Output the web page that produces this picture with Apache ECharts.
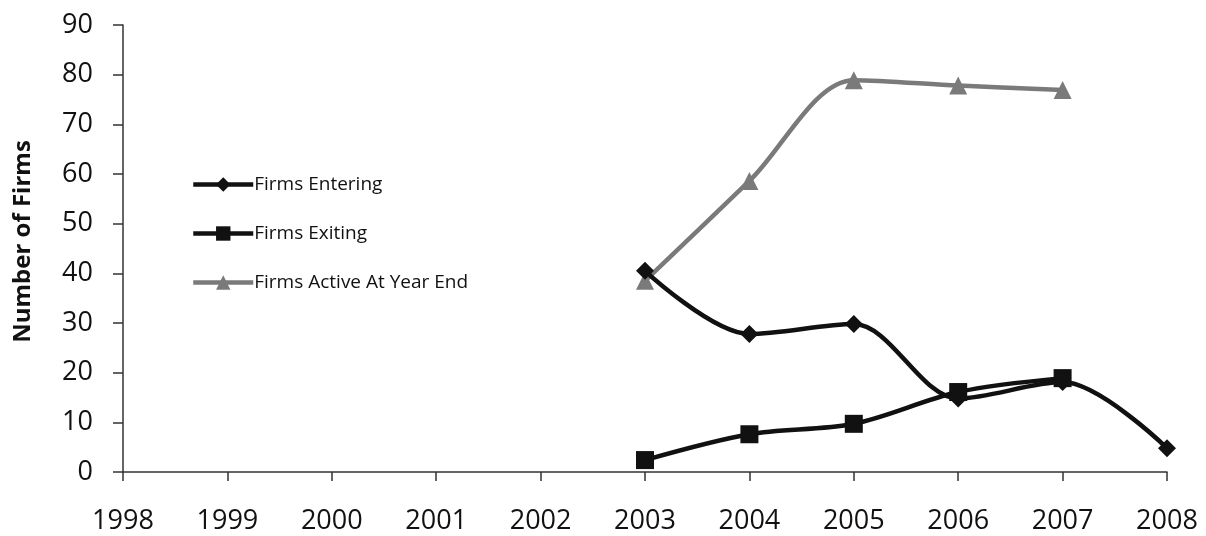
<!DOCTYPE html>
<html>
<head>
<meta charset="utf-8">
<script src="https://cdn.jsdelivr.net/npm/echarts@6/dist/echarts.min.js"></script>
<style>
  html, body { margin: 0; padding: 0; background: #fff; }
  #chart { width: 1206px; height: 536px; }
</style>
</head>
<body>
<div id="chart"></div>
<script>
// Years along the horizontal axis
const years = ['1998', '1999', '2000', '2001', '2002', '2003', '2004', '2005', '2006', '2007', '2008'];

// Number of firms per year (null = no observation)
const firmsEntering = [null, null, null, null, null, 40.5, 27.8, 29.8, 14.8, 18.1, 4.8];
const firmsExiting  = [null, null, null, null, null, 2.4, 7.6, 9.7, 16.1, 18.9, null];
const firmsActive   = [null, null, null, null, null, 38.5, 58.6, 78.9, 77.8, 76.9, null];

const seriesNames = ['Firms Entering', 'Firms Exiting', 'Firms Active At Year End'];

const fontFamily = '"Open Sans", Lato, sans-serif';
const chart = echarts.init(document.getElementById('chart'));

function lineSeries(name, data, symbol, size, color) {
  return {
    name: name,
    type: 'line',
    data: data,
    smooth: 0.32,
    symbol: symbol,
    symbolSize: size,
    showSymbol: true,
    lineStyle: { color: color, width: 4.5 },
    itemStyle: { color: color, borderWidth: 0 },
    connectNulls: false,
    z: 2
  };
}

chart.setOption({
  animation: false,
  backgroundColor: '#fff',
  textStyle: { fontFamily: fontFamily },
  grid: { left: 123, right: 39, top: 25, bottom: 64, containLabel: false },
  legend: {
    orient: 'vertical',
    left: 186,
    top: 170,
    itemWidth: 60,
    itemHeight: 18,
    itemGap: 30,
    lineStyle: { width: 4.5 },
    textStyle: { fontFamily: fontFamily, fontSize: 19, color: '#111', padding: [0, 0, 0, -4] },
    data: seriesNames
  },
  xAxis: {
    type: 'category',
    data: years,
    boundaryGap: false,
    axisLine: { lineStyle: { color: '#333', width: 1.5 } },
    axisTick: { show: true, length: 9, lineStyle: { color: '#333', width: 1.5 } },
    axisLabel: { fontSize: 27, color: '#111', margin: 36, fontFamily: fontFamily },
    splitLine: { show: false }
  },
  yAxis: {
    type: 'value',
    min: 0,
    max: 90,
    interval: 10,
    name: 'Number of Firms',
    nameLocation: 'middle',
    nameGap: 88,
    nameRotate: 90,
    nameTextStyle: { fontSize: 24, fontWeight: 'bold', color: '#111', fontFamily: fontFamily, padding: [0, 0, 0, 14] },
    axisLine: { show: true, lineStyle: { color: '#333', width: 1.5 } },
    axisTick: { show: true, length: 10, lineStyle: { color: '#333', width: 1.5 } },
    axisLabel: { fontSize: 27, color: '#111', margin: 30, fontFamily: fontFamily },
    splitLine: { show: false }
  },
  series: [
    lineSeries(seriesNames[2], firmsActive, 'triangle', 18, '#7a7a7a'),
    lineSeries(seriesNames[0], firmsEntering, 'diamond', 18, '#111'),
    lineSeries(seriesNames[1], firmsExiting, 'rect', 18, '#111')
  ]
});
</script>
</body>
</html>
